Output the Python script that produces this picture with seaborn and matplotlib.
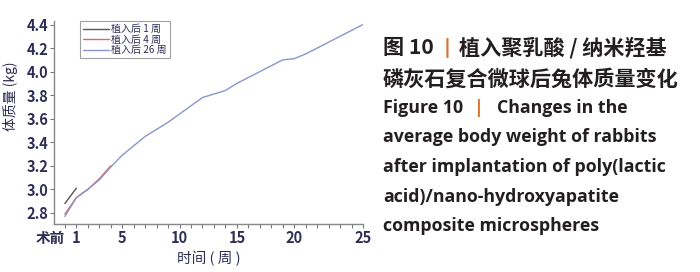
import pandas as pd
import matplotlib.pyplot as plt
import seaborn as sns

# body weight (kg) of rabbits, week 0 = before surgery
weeks_1 = [0, 1]
weight_1 = [2.88, 3.01]
weeks_4 = [0, 1, 2, 3, 4]
weight_4 = [2.79, 2.93, 3.00, 3.09, 3.20]
weeks_26 = list(range(27))
weight_26 = [2.77, 2.93, 3.00, 3.08, 3.19, 3.29, 3.37, 3.45, 3.51, 3.57,
             3.64, 3.71, 3.78, 3.81, 3.84, 3.90, 3.95, 4.00, 4.05, 4.10,
             4.11, 4.15, 4.20, 4.25, 4.30, 4.35, 4.40]
series_names = ['植入后 1 周', '植入后 4 周', '植入后 26 周']
series_colors = ['#555555', '#e06666', '#8896cc']

tick_pos = [0, 1, 5, 10, 15, 20, 26]
tick_labels = ['术前', '1', '5', '10', '15', '20', '25']

df = pd.concat([
    pd.DataFrame({'week': weeks_1, 'weight': weight_1, 'group': series_names[0]}),
    pd.DataFrame({'week': weeks_4, 'weight': weight_4, 'group': series_names[1]}),
    pd.DataFrame({'week': weeks_26, 'weight': weight_26, 'group': series_names[2]}),
])

sns.set_style('ticks')
plt.rcParams['font.family'] = ['Noto Sans CJK SC', 'DejaVu Sans']

fig = plt.figure(figsize=(7, 2.72), dpi=100)
ax = fig.add_axes([54 / 700, 48 / 272, 309 / 700, 203 / 272])

sns.lineplot(data=df, x='week', y='weight', hue='group', hue_order=series_names,
             palette=series_colors, linewidth=1.0, ax=ax)

txt = '#2e2e55'
ax.set_xlim(-0.95, 26)
ax.set_ylim(2.706, 4.43)
ax.set_yticks([2.8, 3.0, 3.2, 3.4, 3.6, 3.8, 4.0, 4.2, 4.4])
ax.set_yticklabels(['2.8', '3.0', '3.2', '3.4', '3.6', '3.8', '4.0', '4.2', '4.4'])
ax.set_xticks(tick_pos)
ax.set_xticklabels(tick_labels)
ax.set_xticks(range(27), minor=True)
ax.tick_params(axis='both', which='major', length=3, width=0.8, color='#777777',
               labelsize=10.5, labelcolor=txt, pad=1)
ax.tick_params(axis='x', which='minor', length=3, width=0.8, color='#777777')
for lab in ax.get_xticklabels() + ax.get_yticklabels():
    lab.set_fontweight('bold')
ax.get_xticklabels()[0].set_ha('right')
sns.despine(ax=ax)
for s in ['left', 'bottom']:
    ax.spines[s].set_color('#888888')
    ax.spines[s].set_linewidth(1.0)

ax.set_xlabel('时间 ( 周 )', fontsize=10.5, color=txt, labelpad=4)
ax.set_ylabel('体质量 (kg)', fontsize=10, color=txt)
ax.yaxis.set_label_coords(-0.115, 0.63)

leg = ax.legend(loc='upper left', bbox_to_anchor=(80 / 700, 1 - 21 / 272),
                bbox_transform=fig.transFigure, fontsize=7.2, frameon=True,
                fancybox=False, edgecolor='#888888', handlelength=2.6,
                handletextpad=0.2, labelspacing=0.05, borderpad=0.3,
                borderaxespad=0)
leg.get_frame().set_linewidth(0.8)
for t in leg.get_texts():
    t.set_color(txt)

# caption on the right
dark = '#231f20'
orange = '#d9722e'
cjk = ['Noto Sans CJK SC', 'DejaVu Sans']
en = ['Open Sans', 'DejaVu Sans']
def put(x, y, s, color=dark, size=15.2, family=cjk, ha='left'):
    fig.text(x / 700, 1 - y / 272, s, color=color, fontsize=size,
             fontweight='bold', family=family, va='center', ha=ha)

put(383, 48, '图 10')
put(447, 48, '|', color=orange, size=14, family=en, ha='center')
put(459, 48, '植入聚乳酸 / 纳米羟基')
put(383, 79, '磷灰石复合微球后兔体质量变化')
put(383, 108, 'Figure 10', size=12.8, family=en)
put(479, 108, '|', color=orange, size=12.8, family=en, ha='center')
put(497, 108, 'Changes in the', size=12.8, family=en)
put(383, 137, 'average body weight of rabbits', size=12.8, family=en)
put(383, 167, 'after implantation of poly(lactic', size=12.8, family=en)
put(383, 197, 'acid)/nano-hydroxyapatite', size=12.8, family=en)
put(383, 226, 'composite microspheres', size=12.8, family=en)

fig.savefig('out.png', dpi=100)
